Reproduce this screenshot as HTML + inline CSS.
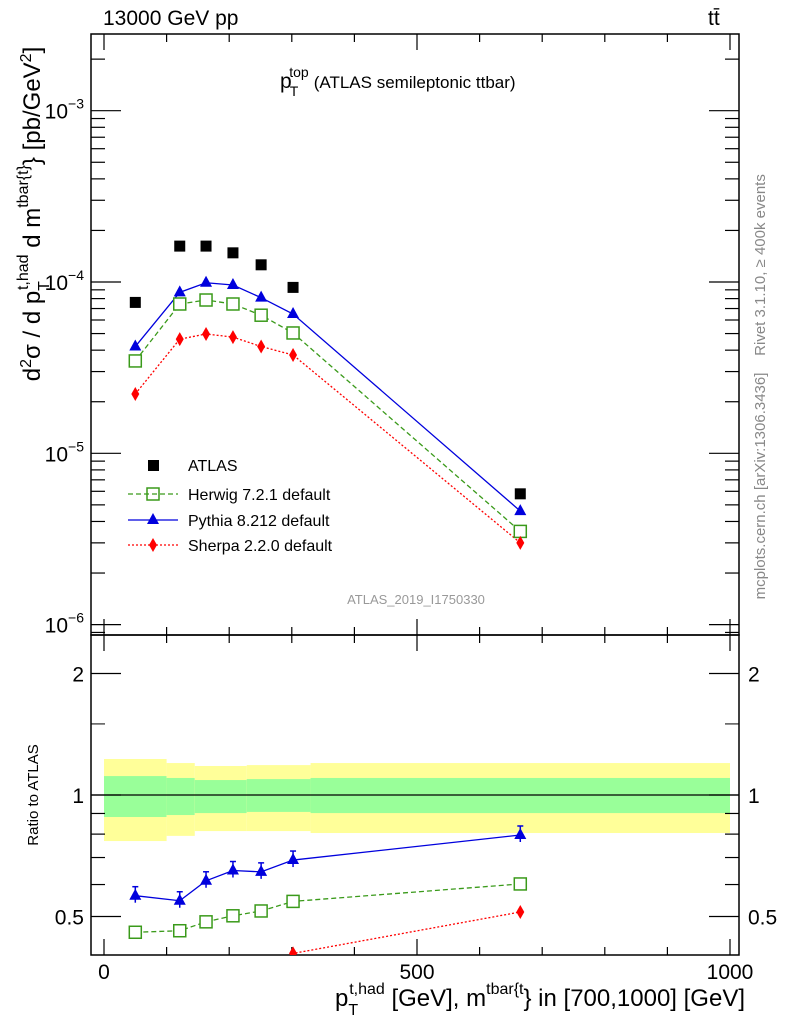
<!DOCTYPE html>
<html><head><meta charset="utf-8"><style>
body{margin:0;background:#fff}
svg{font-family:"Liberation Sans",sans-serif}
</style></head><body>
<svg id="c" width="786" height="1024" viewBox="0 0 786 1024">
<rect x="0" y="0" width="786" height="1024" fill="#fff"/>
<g id="bands"></g>
<g id="axes"></g>
<g id="series"></g>
<text x="103" y="25" font-size="21">13000 GeV pp</text>
<text x="708" y="25" font-size="21">tt̄</text>
<text x="280" y="88" font-size="21">p<tspan font-size="14" dy="8" dx="-2">T</tspan><tspan font-size="14" dy="-19" dx="-9">top</tspan><tspan font-size="17" dy="11" dx="5">(ATLAS semileptonic ttbar)</tspan></text>
<text x="416" y="604" font-size="13" fill="#999" text-anchor="middle">ATLAS_2019_I1750330</text>
<text transform="translate(765,265) rotate(-90)" font-size="15" fill="#888" text-anchor="middle">Rivet 3.1.10, ≥ 400k events</text>
<text transform="translate(765,486) rotate(-90)" font-size="15" fill="#888" text-anchor="middle">mcplots.cern.ch [arXiv:1306.3436]</text>
<text transform="translate(40,214) rotate(-90)" font-size="24" text-anchor="middle">d<tspan font-size="16" dy="-9">2</tspan><tspan dy="9">σ / d p</tspan><tspan font-size="16" dy="9">T</tspan><tspan font-size="16" dy="-21" dx="-9">t,had</tspan><tspan dy="12"> d m</tspan><tspan font-size="16" dy="-12">tbar{t}</tspan><tspan dy="12">} [pb/GeV</tspan><tspan font-size="16" dy="-9">2</tspan><tspan dy="9">]</tspan></text>
<text transform="translate(38,795) rotate(-90)" font-size="15" text-anchor="middle">Ratio to ATLAS</text>
<text x="745" y="1006" font-size="24" text-anchor="end">p<tspan font-size="16" dy="9">T</tspan><tspan font-size="16" dy="-21" dx="-9">t,had</tspan><tspan dy="12"> [GeV], m</tspan><tspan font-size="16" dy="-12">tbar{t</tspan><tspan dy="12">} in [700,1000] [GeV]</tspan></text>
<g id="legend">
<rect x="148" y="460" width="11" height="11" fill="#000"/>
<text x="188" y="471" font-size="16">ATLAS</text>
<line x1="128" y1="494" x2="178" y2="494" stroke="#3a9a1a" stroke-width="1.3" stroke-dasharray="5,3"/>
<rect x="147" y="488" width="12" height="12" fill="none" stroke="#3a9a1a" stroke-width="1.5"/>
<text x="188" y="500" font-size="16">Herwig 7.2.1 default</text>
<line x1="128" y1="520" x2="178" y2="520" stroke="#0000dd" stroke-width="1.3"/>
<polygon points="153,513 159,524 147,524" fill="#0000dd"/>
<text x="188" y="526" font-size="16">Pythia 8.212 default</text>
<line x1="128" y1="545" x2="178" y2="545" stroke="#ff0000" stroke-width="1.3" stroke-dasharray="2,2"/>
<polygon points="153,538 157,545 153,552 149,545" fill="#ff0000"/>
<text x="188" y="551" font-size="16">Sherpa 2.2.0 default</text>
</g>
</svg>
<script>
const xVals=[50,121,163,206,251,302,665];
const atlas=[7.6e-5,1.62e-4,1.62e-4,1.48e-4,1.26e-4,9.3e-5,5.8e-6];
const herwig=[3.46e-5,7.44e-5,7.85e-5,7.44e-5,6.4e-5,5.04e-5,3.5e-6];
const pythia=[4.2e-5,8.7e-5,9.9e-5,9.6e-5,8.1e-5,6.5e-5,4.6e-6];
const sherpa=[2.22e-5,4.64e-5,4.97e-5,4.77e-5,4.2e-5,3.75e-5,3.0e-6];
const herwigRatio=[0.457,0.461,0.485,0.502,0.516,0.545,0.602];
const pythiaRatio=[0.563,0.547,0.613,0.65,0.645,0.69,0.796];
const sherpaRatio=[0.29,0.29,0.31,0.32,0.33,0.405,0.513];
const bandEdges=[0,100,145,228,330,1000];
const yellowHi=[1.228,1.20,1.18,1.186,1.20];
const yellowLo=[0.769,0.792,0.814,0.814,0.805];
const greenHi=[1.114,1.102,1.089,1.095,1.102];
const greenLo=[0.882,0.892,0.902,0.908,0.902];
const xTicks=[0,500,1000];
const yTicks=[-6,-5,-4,-3];
const rTicks=[0.5,1,2];

const NS="http://www.w3.org/2000/svg";
const L=91,R=739,T=34,MB=635,RB=955;
const X=v=>104+v*0.626;
const Y=v=>282-(Math.log10(v)+4)*171.3;
const RY=v=>795-Math.log2(v)*121.5;
function mk(p,tag,a){const e=document.createElementNS(NS,tag);for(const k in a)e.setAttribute(k,a[k]);p.appendChild(e);return e;}
const bands=document.getElementById('bands'),axes=document.getElementById('axes'),ser=document.getElementById('series');
for(let i=0;i<bandEdges.length-1;i++){
 const x1=X(bandEdges[i]),x2=X(bandEdges[i+1]);
 const y=mk(bands,'rect',{x:x1,y:RY(yellowHi[i]),width:x2-x1,height:RY(yellowLo[i])-RY(yellowHi[i]),fill:'#ffff99'});
 
 
 const g=mk(bands,'rect',{x:x1,y:RY(greenHi[i]),width:x2-x1,height:RY(greenLo[i])-RY(greenHi[i]),fill:'#99ff99'});
 
 
}
mk(axes,'line',{x1:L,y1:795,x2:R,y2:795,stroke:'#000','stroke-width':1.3});
mk(axes,'rect',{x:L,y:T,width:R-L,height:MB-T,fill:'none',stroke:'#000','stroke-width':1.5});
mk(axes,'rect',{x:L,y:MB,width:R-L,height:RB-MB,fill:'none',stroke:'#000','stroke-width':1.5});
for(let v=0;v<=1000;v+=100){const big=v%500===0;
 for(const [yb,dir] of [[MB,-1],[RB,-1],[T,1],[MB,1]]){
  mk(axes,'line',{x1:X(v),y1:yb,x2:X(v),y2:yb+dir*(big?16:8),stroke:'#000','stroke-width':1.2});}}
xTicks.forEach(v=>{const t=mk(axes,'text',{x:X(v),y:979,'font-size':21,'text-anchor':'middle'});t.textContent=v;
 
 });
for(let d=-7;d<=-3;d++){for(let m=1;m<10;m++){const v=m*Math.pow(10,d);const y=Y(v);if(y<T||y>MB)continue;const len=m===1?30:14;
 mk(axes,'line',{x1:L,y1:y,x2:L+len,y2:y,stroke:'#000','stroke-width':1.2});
 mk(axes,'line',{x1:R,y1:y,x2:R-len,y2:y,stroke:'#000','stroke-width':1.2});}}
yTicks.forEach(d=>{const t=mk(axes,'text',{x:84,y:Y(Math.pow(10,d))+8,'font-size':21,'text-anchor':'end'});
 t.innerHTML='10<tspan font-size="14" dy="-10">−'+(-d)+'</tspan>';
 
 });
[0.4,0.5,0.6,0.7,0.8,0.9,1,2].forEach(v=>{const y=RY(v);if(y>RB)return;const big=(v===0.5||v===1||v===2);const len=big?30:14;
 mk(axes,'line',{x1:L,y1:y,x2:L+len,y2:y,stroke:'#000','stroke-width':1.2});
 mk(axes,'line',{x1:R,y1:y,x2:R-len,y2:y,stroke:'#000','stroke-width':1.2});});
[1.5,3].forEach(v=>{const y=RY(v);if(y<MB)return;mk(axes,'line',{x1:L,y1:y,x2:L+14,y2:y,stroke:'#000'});mk(axes,'line',{x1:R,y1:y,x2:R-14,y2:y,stroke:'#000'});});
rTicks.forEach(v=>{for(const [x,a] of [[84,'end'],[748,'start']]){const t=mk(axes,'text',{x:x,y:RY(v)+8,'font-size':21,'text-anchor':a});t.textContent=v;
 
 }});
const defs=mk(ser,'defs',{});const cp=mk(defs,'clipPath',{id:'rc'});mk(cp,'rect',{x:L,y:MB,width:R-L,height:RB-MB});
function line(vals,yf,color,dash,clip){const p=mk(ser,'polyline',{points:vals.map((v,i)=>X(xVals[i])+','+yf(v)).join(' '),fill:'none',stroke:color,'stroke-width':1.3});
 if(dash)p.setAttribute('stroke-dasharray',dash);if(clip)p.setAttribute('clip-path','url(#rc)');return p;}
function marker(type,x,y,color,clip){let e;
 if(type==='sq')e=mk(ser,'rect',{x:x-6,y:y-6,width:12,height:12,fill:'#fff',stroke:color,'stroke-width':1.5});
 else if(type==='fsq')e=mk(ser,'rect',{x:x-5.5,y:y-5.5,width:11,height:11,fill:'#000'});
 else if(type==='tri')e=mk(ser,'polygon',{points:`${x},${y-7} ${x+6},${y+4} ${x-6},${y+4}`,fill:color});
 else e=mk(ser,'polygon',{points:`${x},${y-7} ${x+4},${y} ${x},${y+7} ${x-4},${y}`,fill:color});
 if(clip)e.setAttribute('clip-path','url(#rc)');return e;}
line(herwig,Y,'#3a9a1a','5,3');line(pythia,Y,'#0000dd');line(sherpa,Y,'#ff0000','2,2');
line(herwigRatio,RY,'#3a9a1a','5,3',1);line(pythiaRatio,RY,'#0000dd',0,1);line(sherpaRatio,RY,'#ff0000','2,2',1);
xVals.forEach((xv,i)=>{const x=X(xv);
 let e=marker('fsq',x,Y(atlas[i]));
 e=marker('sq',x,Y(herwig[i]),'#3a9a1a');
 e=marker('tri',x,Y(pythia[i]),'#0000dd');
 e=marker('dia',x,Y(sherpa[i]),'#ff0000');
 e=marker('sq',x,RY(herwigRatio[i]),'#3a9a1a',1);
 mk(ser,'line',{x1:x,y1:RY(pythiaRatio[i])-9,x2:x,y2:RY(pythiaRatio[i])+7,stroke:'#0000dd','stroke-width':1.5});
 mk(ser,'line',{x1:x-3,y1:RY(pythiaRatio[i])-9,x2:x+3,y2:RY(pythiaRatio[i])-9,stroke:'#0000dd','stroke-width':1.5});
 e=marker('tri',x,RY(pythiaRatio[i]),'#0000dd',1);
 e=marker('dia',x,RY(sherpaRatio[i]),'#ff0000',1);
});
</script>
</body></html>
